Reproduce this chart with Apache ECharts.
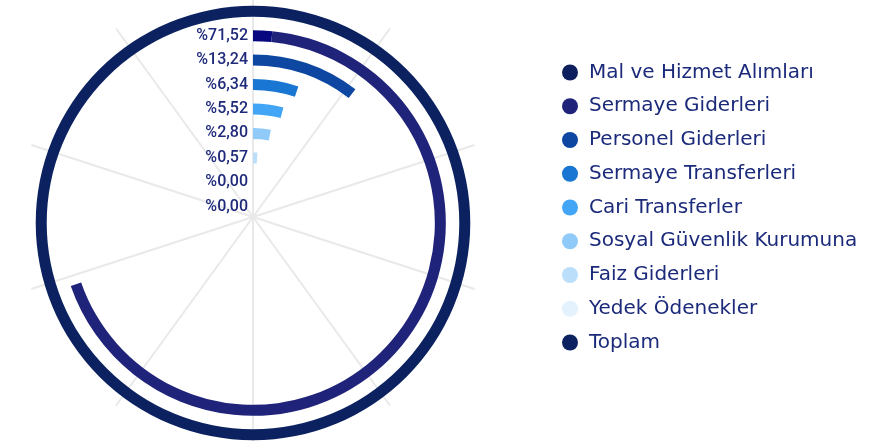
<!DOCTYPE html>
<html>
<head>
<meta charset="utf-8">
<script src="https://cdn.jsdelivr.net/npm/echarts@6/dist/echarts.min.js"></script>
<style>
  html, body { margin: 0; padding: 0; background: #fff; }
  #chart { width: 887px; height: 441px; }
</style>
</head>
<body>
<div id="chart"></div>
<script>
// ring labels, innermost first (last ring = Toplam, no label)
const ringLabels = ['%0,00', '%0,00', '%0,57', '%2,80', '%5,52', '%6,34', '%13,24', '%71,52', ''];

const seriesNames = [
    'Mal ve Hizmet Alımları',
    'Sermaye Giderleri',
    'Personel Giderleri',
    'Sermaye Transferleri',
    'Cari Transferler',
    'Sosyal Güvenlik Kurumuna',
    'Faiz Giderleri',
    'Yedek Ödenekler',
    'Toplam'
];
const legendColors = ['#0d1f5c', '#1f237a', '#0d47a1', '#1976d2', '#42a5f5', '#90caf9', '#bbdefb', '#e3f2fd', '#0b2160'];
const barColors = ['#07077f', '#1f237a', '#0d47a1', '#1976d2', '#42a5f5', '#90caf9', '#bbdefb', '#e3f2fd', '#0b2160'];
// which ring each series sits on, and its arc length (% of full circle) as drawn
const ringIndex = [7, 7, 6, 5, 4, 3, 2, 1, 8];
const arcValues = [1.6, 68.1, 10.4, 5.1, 4.1, 3.0, 1.0, 0, 100];

const series = seriesNames.map((name, i) => {
    const data = ringLabels.map(() => '-');
    data[ringIndex[i]] = arcValues[i];
    return {
        name: name,
        type: 'bar',
        coordinateSystem: 'polar',
        polarIndex: 1,
        stack: 'rings',
        barWidth: 11,
        itemStyle: { color: barColors[i] },
        data: data
    };
});

const chart = echarts.init(document.getElementById('chart'));
chart.setOption({
    animation: false,
    backgroundColor: '#fff',
    polar: [
        { center: [253, 217], radius: 233 },
        { center: [253, 223], radius: [4, 224] }
    ],
    angleAxis: [
        {
            polarIndex: 0,
            type: 'value',
            min: 0,
            max: 100,
            interval: 10,
            startAngle: 90,
            axisLine: { show: false },
            axisTick: { show: false },
            axisLabel: { show: false },
            splitLine: { show: true, lineStyle: { color: '#e9e9e9', width: 2 } }
        },
        {
            polarIndex: 1,
            type: 'value',
            min: 0,
            max: 100,
            startAngle: 90,
            axisLine: { show: false },
            axisTick: { show: false },
            axisLabel: { show: false },
            splitLine: { show: false }
        }
    ],
    radiusAxis: [
        {
            polarIndex: 0,
            type: 'value',
            axisLine: { show: false },
            axisTick: { show: false },
            axisLabel: { show: false },
            splitLine: { show: false }
        },
        {
            polarIndex: 1,
            type: 'category',
            data: ringLabels,
            z: 10,
            axisLine: { show: false },
            axisTick: { show: false },
            splitLine: { show: false },
            axisLabel: {
                interval: 0,
                margin: 5,
                color: '#1f2a7a',
                fontFamily: 'Roboto',
                fontWeight: 500,
                fontSize: 16
            }
        }
    ],
    legend: {
        orient: 'vertical',
        left: 557,
        top: 57.5,
        icon: 'circle',
        itemWidth: 28,
        itemHeight: 16,
        itemGap: 13.75,
        textStyle: {
            color: '#1b2a7a',
            fontFamily: 'DejaVu Sans',
            fontSize: 20,
            lineHeight: 20
        },
        data: seriesNames.map((n, i) => ({ name: n, itemStyle: { color: legendColors[i] } }))
    },
    series: series
});
</script>
</body>
</html>
